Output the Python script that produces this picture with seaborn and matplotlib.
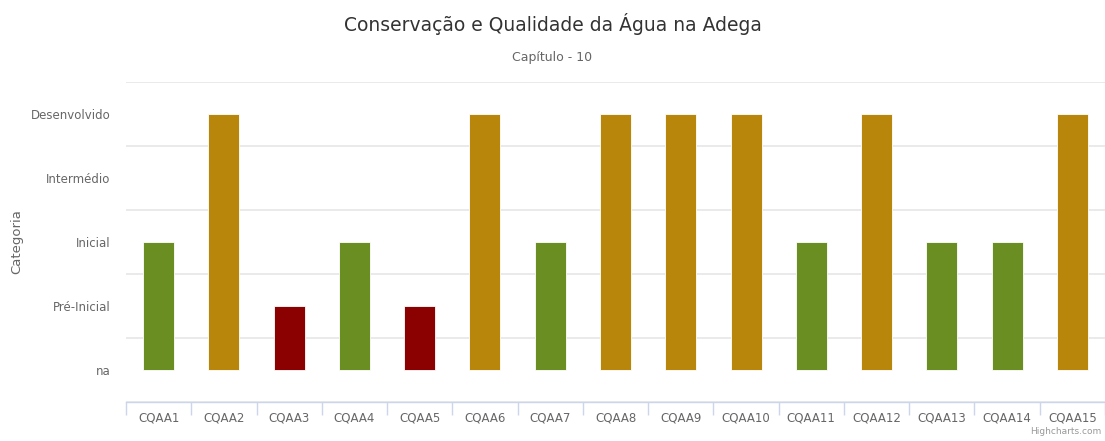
import matplotlib
matplotlib.use("Agg")
import matplotlib.pyplot as plt
import seaborn as sns
import numpy as np
import pandas as pd

categories = ["CQAA1", "CQAA2", "CQAA3", "CQAA4", "CQAA5", "CQAA6", "CQAA7", "CQAA8",
              "CQAA9", "CQAA10", "CQAA11", "CQAA12", "CQAA13", "CQAA14", "CQAA15"]
values = [2, 4, 1, 2, 1, 4, 2, 4, 4, 4, 2, 4, 2, 2, 4]
level_labels = ["na", "Pré-Inicial", "Inicial", "Intermédio", "Desenvolvido"]
level_colors = {1: "#8b0000", 2: "#6b8e23", 4: "#b8860b", 3: "#b8860b", 0: "#999999"}

sns.set_theme(style="white")
plt.rcParams['font.family'] = ['DejaVu Sans']

df = pd.DataFrame({"cat": categories, "val": values})
palette = {c: level_colors[v] for c, v in zip(categories, values)}

fig = plt.figure(figsize=(11.05, 4.41), dpi=100)
ax = fig.add_axes([126/1105, 39/441, 1 - 126/1105, (402-82)/441])

sns.barplot(data=df, x="cat", y="val", hue="cat", palette=palette, legend=False,
            width=0.475, ax=ax, edgecolor="white", linewidth=0.6, saturation=1, zorder=3)

ax.set_xlim(-0.5, len(categories) - 0.5)
ax.set_ylim(-0.5, 4.5)

ax.set_yticks(range(len(level_labels)))
ax.set_yticklabels(level_labels, color="#666666", fontsize=8.5)
ax.set_yticks(np.arange(-0.5, 4.6, 1.0), minor=True)
ax.grid(False)
ax.grid(which="minor", axis="y", color="#e6e6e6", linewidth=1.2, zorder=0)
ax.tick_params(axis="y", which="both", length=0, pad=11)

ax.set_xticks(range(len(categories)))
ax.set_xticklabels(categories, color="#666666", fontsize=8.5)
ax.set_xticks(np.arange(-0.5, len(categories) - 0.4, 1.0), minor=True)
ax.tick_params(axis="x", which="major", length=0, pad=7, bottom=True)
ax.tick_params(axis="x", which="minor", length=9, color="#ccd6eb", width=1,
               direction="out", bottom=True)

for s in ["top", "right", "left"]:
    ax.spines[s].set_visible(False)
ax.spines["bottom"].set_color("#ccd6eb")
ax.spines["bottom"].set_linewidth(1)

ax.set_xlabel("")
ax.set_ylabel("Categoria", color="#666666", fontsize=9.5)
ax.yaxis.set_label_coords(-103/979, 0.5)

fig.text(0.5, 1 - 24/441, "Conservação e Qualidade da Água na Adega", ha="center", va="center",
         fontsize=13.5, color="#333333")
fig.text(0.5, 1 - 58/441, "Capítulo - 10", ha="center", va="center", fontsize=9, color="#666666")
fig.text(1 - 4/1105, 1 - 436/441, "Highcharts.com", ha="right", va="bottom", fontsize=6.5, color="#999999")

fig.savefig("out.png", dpi=100)
